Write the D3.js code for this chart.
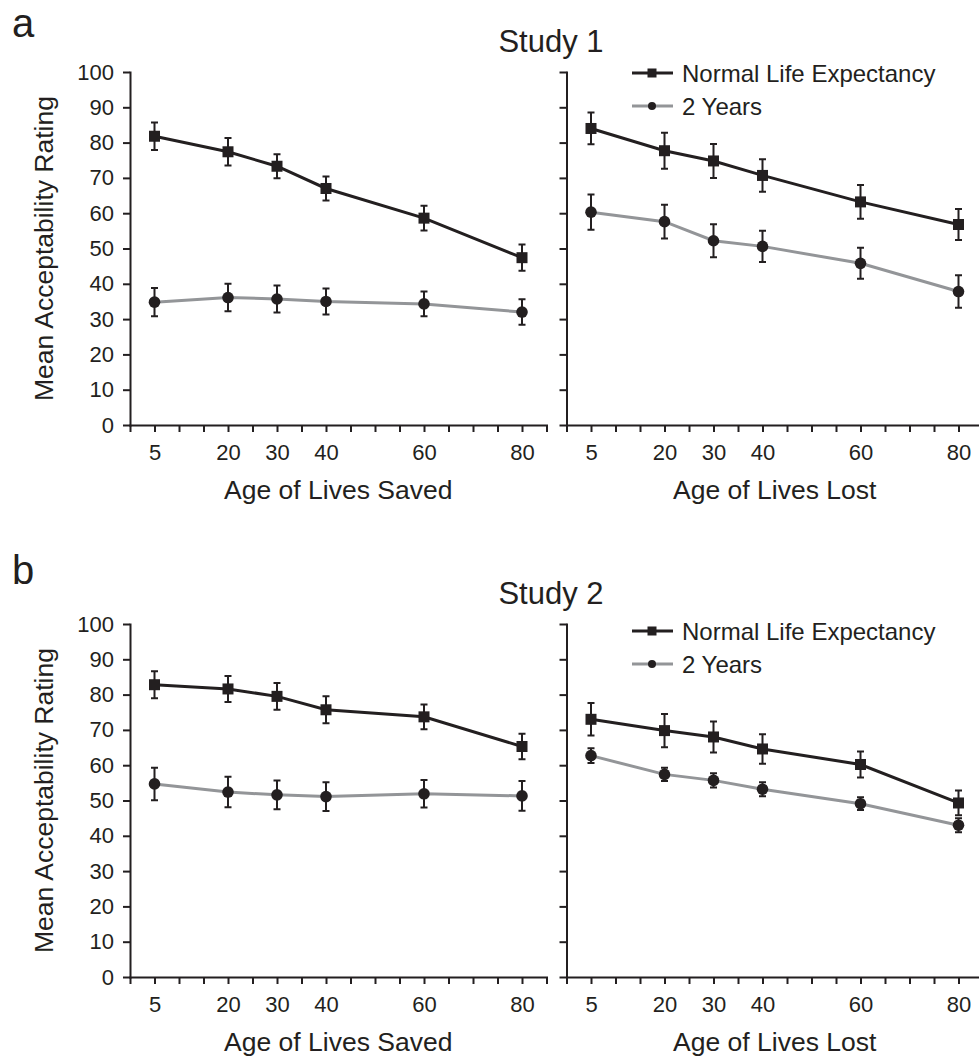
<!DOCTYPE html>
<html>
<head>
<meta charset="utf-8">
<script src="https://cdn.jsdelivr.net/npm/d3@7"></script>
<style>
  body { margin: 0; background: #fff; }
  svg { display: block; font-family: "Liberation Sans", Arial, Helvetica, sans-serif; }
  .axis path, .axis line { stroke: #231f20; stroke-width: 2; }
  .axis text { fill: #231f20; font-size: 22px; }
</style>
</head>
<body>
<script>
// ages shown on the x axis
var ages = [5, 20, 30, 40, 60, 80];
var yTicks = [0, 10, 20, 30, 40, 50, 60, 70, 80, 90, 100];
var seriesNames = ["Normal Life Expectancy", "2 Years"];

// Study 1 - lives saved
var s1SavedNormal = [81.8, 77.4, 73.3, 67.0, 58.6, 47.4];
var s1SavedNormalErr = [3.9, 3.9, 3.4, 3.4, 3.5, 3.7];
var s1SavedTwo = [34.8, 36.1, 35.7, 35.0, 34.3, 32.0];
var s1SavedTwoErr = [4.0, 3.9, 3.8, 3.7, 3.5, 3.6];
// Study 1 - lives lost
var s1LostNormal = [84.0, 77.7, 74.8, 70.7, 63.2, 56.8];
var s1LostNormalErr = [4.5, 5.1, 4.8, 4.6, 4.8, 4.4];
var s1LostTwo = [60.3, 57.6, 52.2, 50.6, 45.8, 37.8];
var s1LostTwoErr = [5.0, 4.8, 4.7, 4.4, 4.4, 4.6];
// Study 2 - lives saved
var s2SavedNormal = [82.8, 81.6, 79.5, 75.7, 73.7, 65.3];
var s2SavedNormalErr = [3.8, 3.7, 3.8, 3.8, 3.5, 3.6];
var s2SavedTwo = [54.7, 52.4, 51.6, 51.1, 51.9, 51.3];
var s2SavedTwoErr = [4.6, 4.3, 4.1, 4.1, 3.9, 4.2];
// Study 2 - lives lost
var s2LostNormal = [73.0, 69.8, 68.0, 64.6, 60.2, 49.3];
var s2LostNormalErr = [4.6, 4.7, 4.4, 4.2, 3.7, 3.5];
var s2LostTwo = [62.7, 57.4, 55.7, 53.2, 49.1, 43.0];
var s2LostTwoErr = [2.1, 1.9, 2.0, 2.0, 1.8, 2.0];

var ink = "#231f20", grey = "#939598";

var studies = [
  { letter: "a", letterY: 37, title: "Study 1", top: 72, legendDy: 1,
    saved: [s1SavedNormal, s1SavedNormalErr, s1SavedTwo, s1SavedTwoErr],
    lost: [s1LostNormal, s1LostNormalErr, s1LostTwo, s1LostTwoErr] },
  { letter: "b", letterY: 584, title: "Study 2", top: 624, legendDy: 7,
    saved: [s2SavedNormal, s2SavedNormalErr, s2SavedTwo, s2SavedTwoErr],
    lost: [s2LostNormal, s2LostNormalErr, s2LostTwo, s2LostTwoErr] }
];

var svg = d3.select("body").append("svg")
  .attr("width", 979).attr("height", 1056);

var x = d3.scaleLinear().domain([0, 85]).range([0, 416.5]);
var plotH = 353;

function toPoints(vals, errs) {
  return ages.map(function(a, i) { return { age: a, v: vals[i], e: errs[i] }; });
}

function drawPanel(g, y, data, left, xTitle) {
  var xAxis = d3.axisBottom(x)
    .tickValues(d3.range(0, 86, 5))
    .tickSize(7).tickSizeOuter(0).tickPadding(12)
    .tickFormat(function(d) { return ages.indexOf(d) >= 0 ? d : ""; });
  g.append("g").attr("class", "axis")
    .attr("transform", "translate(0," + plotH + ")")
    .call(xAxis);

  var yAxis = d3.axisLeft(y).tickValues(yTicks)
    .tickSize(7).tickSizeOuter(0).tickPadding(9);
  if (!left) yAxis.tickFormat("");
  g.append("g").attr("class", "axis").call(yAxis);

  g.selectAll(".axis .domain").attr("stroke-linecap", "square");

  g.append("text")
    .attr("x", x(42.5)).attr("y", plotH + 74)
    .attr("text-anchor", "middle")
    .attr("font-size", "26.5px").attr("fill", ink)
    .text(xTitle);

  var line = d3.line().x(function(d) { return x(d.age); }).y(function(d) { return y(d.v); });
  var series = [
    { pts: toPoints(data[0], data[1]), color: ink, shape: "square" },
    { pts: toPoints(data[2], data[3]), color: grey, shape: "circle" }
  ];

  series.forEach(function(s) {
    g.append("path").datum(s.pts)
      .attr("fill", "none").attr("stroke", s.color)
      .attr("stroke-width", 3).attr("d", line);
  });

  series.forEach(function(s) {
    var eb = g.append("g").attr("stroke", ink).attr("stroke-width", 2).attr("fill", "none");
    eb.selectAll(".bar").data(s.pts).enter().append("path")
      .attr("d", function(d) {
        var cx = x(d.age), t = y(d.v + d.e), b = y(d.v - d.e);
        return "M" + (cx - 3.5) + "," + t + "H" + (cx + 3.5) +
          "M" + cx + "," + t + "V" + b +
          "M" + (cx - 3.5) + "," + b + "H" + (cx + 3.5);
      });
    var mk = g.append("g").attr("fill", ink);
    if (s.shape === "square") {
      mk.selectAll("rect").data(s.pts).enter().append("rect")
        .attr("x", function(d) { return x(d.age) - 5.5; })
        .attr("y", function(d) { return y(d.v) - 5.5; })
        .attr("width", 11).attr("height", 11);
    } else {
      mk.selectAll("circle").data(s.pts).enter().append("circle")
        .attr("cx", function(d) { return x(d.age); })
        .attr("cy", function(d) { return y(d.v); })
        .attr("r", 5.8);
    }
  });
}

studies.forEach(function(st) {
  var yl = d3.scaleLinear().domain([0, 100]).range([plotH, 0]);

  svg.append("text").attr("x", 12).attr("y", st.letterY)
    .attr("font-size", "40px").attr("fill", ink).text(st.letter);

  svg.append("text").attr("x", 551).attr("y", st.top - 20)
    .attr("text-anchor", "middle").attr("font-size", "31px").attr("fill", ink)
    .text(st.title);

  svg.append("text")
    .attr("transform", "translate(53," + (st.top + plotH / 2) + ") rotate(-90)")
    .attr("text-anchor", "middle").attr("font-size", "26.5px").attr("fill", ink)
    .text("Mean Acceptability Rating");

  var gl = svg.append("g").attr("transform", "translate(130," + st.top + ")");
  drawPanel(gl, yl, st.saved, true, "Age of Lives Saved");
  var gr = svg.append("g").attr("transform", "translate(566.5," + st.top + ")");
  drawPanel(gr, yl, st.lost, false, "Age of Lives Lost");

  // legend
  var lg = svg.append("g").attr("transform", "translate(632," + (st.top + st.legendDy) + ")");
  seriesNames.forEach(function(name, i) {
    var row = lg.append("g").attr("transform", "translate(0," + (i * 33) + ")");
    row.append("line").attr("x1", 0).attr("x2", 41).attr("y1", 0).attr("y2", 0)
      .attr("stroke", i === 0 ? ink : grey).attr("stroke-width", 3);
    if (i === 0) {
      row.append("rect").attr("x", 15.5).attr("y", -4.5).attr("width", 9).attr("height", 9).attr("fill", ink);
    } else {
      row.append("circle").attr("cx", 20).attr("cy", 0).attr("r", 4).attr("fill", ink);
    }
    row.append("text").attr("x", 50).attr("y", 8.5)
      .attr("font-size", "24px").attr("fill", ink).text(name);
  });
});
</script>
</body>
</html>
